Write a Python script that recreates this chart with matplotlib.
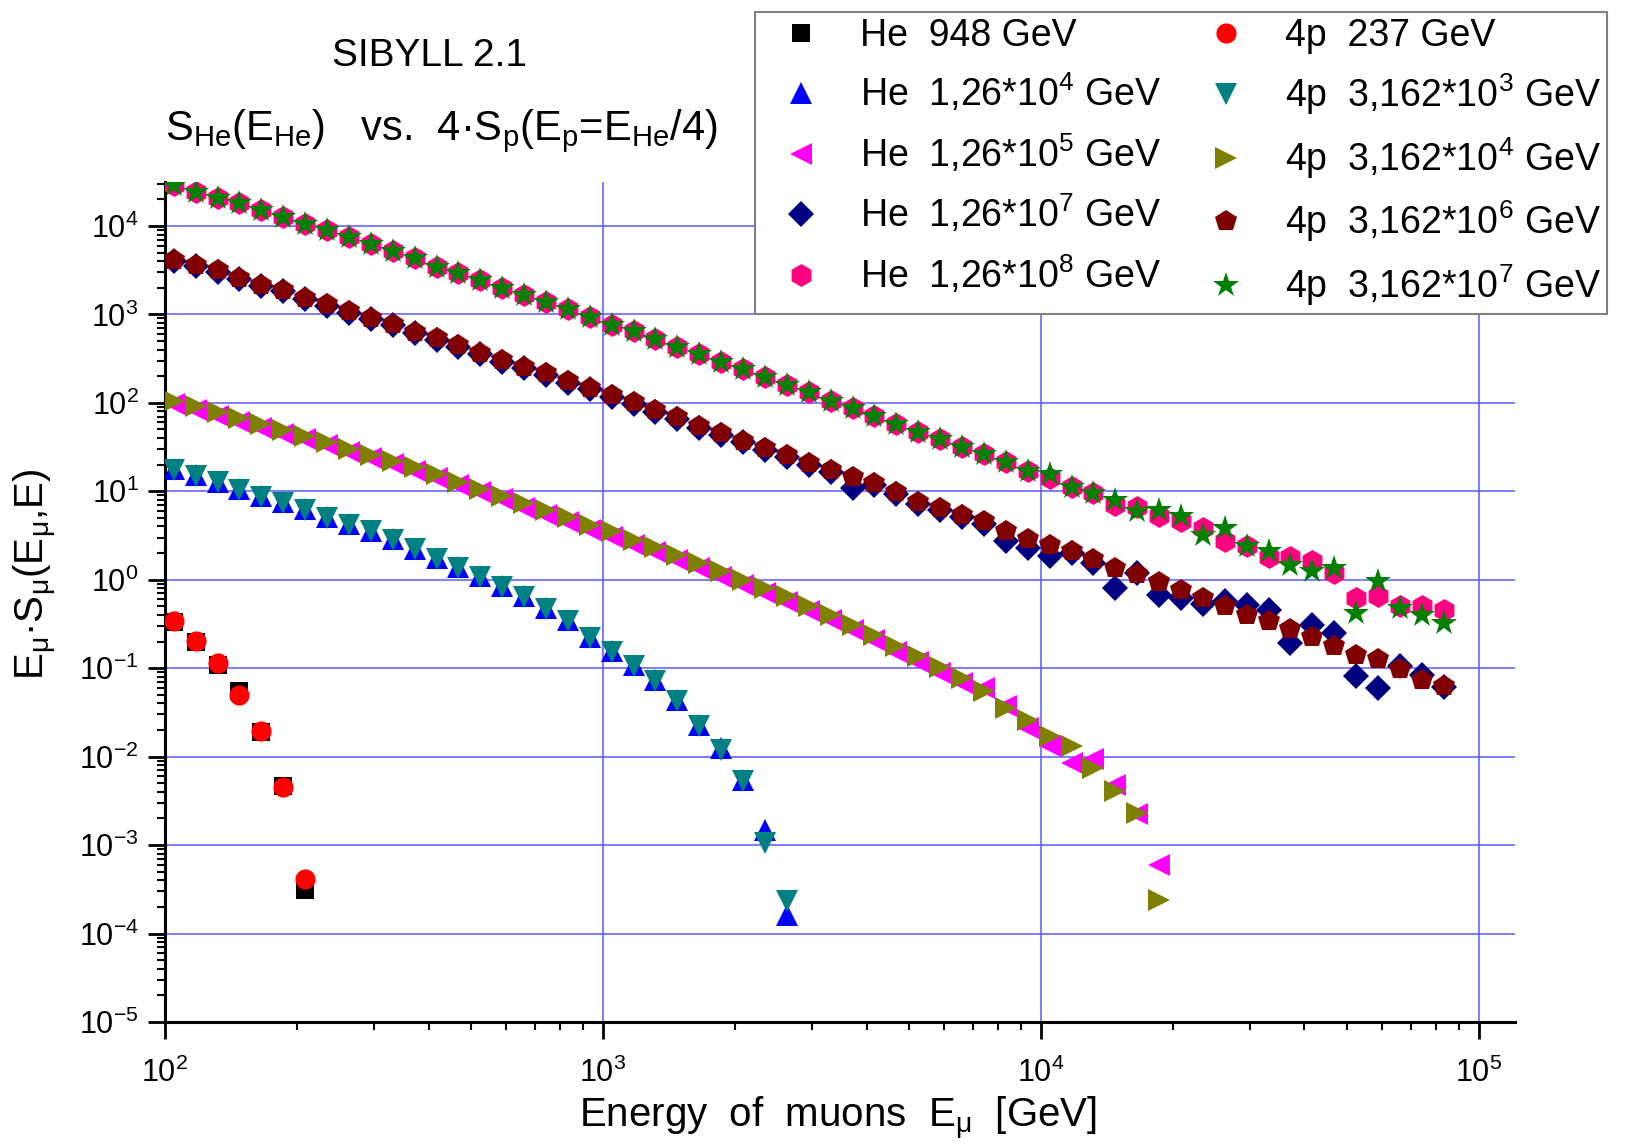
import numpy as np
import matplotlib.pyplot as plt
from matplotlib.ticker import LogLocator, FuncFormatter, NullFormatter

plt.rcParams['font.family'] = ['Liberation Sans', 'DejaVu Sans']
plt.rcParams['mathtext.fontset'] = 'custom'
plt.rcParams['mathtext.rm'] = 'Liberation Sans'
plt.rcParams['mathtext.it'] = 'Liberation Sans'
plt.rcParams['mathtext.default'] = 'regular'

# muon energy bins [GeV]
E = [104.7, 117.5, 131.8, 147.9, 166.0, 186.2, 208.9, 234.4, 263.0, 295.1,
     331.1, 371.5, 416.9, 467.7, 524.8, 588.8, 660.7, 741.3, 831.8, 933.3,
     1047, 1175, 1318, 1479, 1660, 1862, 2089, 2344, 2630, 2951,
     3311, 3715, 4169, 4677, 5248, 5888, 6607, 7413, 8318, 9333,
     10470, 11750, 13180, 14790, 16600, 18620, 20890, 23440, 26300, 29510,
     33110, 37150, 41690, 46770, 52480, 58880, 66070, 74130, 83180]

# E*S(E_mu, E) for helium primaries
he_948 = [0.33, 0.2, 0.11, 0.055, 0.019, 0.0047, 3.1e-4]
he_126e4 = [17.8, 15.1, 12.8, 10.6, 8.9, 7.5, 6.3, 5.1, 4.25, 3.6,
            2.88, 2.25, 1.75, 1.39, 1.1, 0.85, 0.66, 0.48, 0.35, 0.225,
            0.155, 0.108, 0.073, 0.0435, 0.0228, 0.0124, 0.0054, 1.5e-3, 1.64e-4]
he_126e5 = [96, 83, 71.5, 61.5, 52.5, 44.5, 39, 33, 27.5, 23.6,
            20.1, 16.9, 14.1, 11.7, 9.7, 8.1, 6.45, 5.37, 4.45, 3.64,
            3.06, 2.46, 2.04, 1.66, 1.35, 1.08, 0.87, 0.70, 0.563, 0.442,
            0.351, 0.27, 0.208, 0.154, 0.118, 0.089, 0.0675, 0.0603, 0.0372, 0.0209,
            0.0132, 0.0085, 0.0093, 0.0048, 0.00224, 0.0006]
he_126e7 = [4000, 3500, 3050, 2500, 2070, 1820, 1490, 1260, 1050, 880,
            750, 612, 515, 432, 354, 292, 245, 207, 168, 142,
            117, 97, 79.5, 65.5, 52.5, 43.5, 35.8, 29.4, 24.6, 19.8,
            16.7, 10.9, 11.8, 9.4, 7.25, 6.1, 5.1, 4.3, 2.71, 2.28,
            1.86, 2.0, 1.55, 0.805, 1.19, 0.676, 0.621, 0.537, 0.569, 0.521,
            0.45, 0.192, 0.31, 0.25, 0.0807, 0.0597, 0.105, 0.0845, 0.0617]
he_126e8 = [29000, 24430, 20890, 18070, 15170, 12740, 10540, 9016, 7447, 6209,
            5224, 4315, 3467, 2917, 2455, 2009, 1660, 1374, 1146, 946,
            767, 641, 525, 433, 358, 293, 240, 195, 160, 131,
            106, 87.1, 71.3, 57.9, 47.4, 39.2, 31.6, 26.1, 21.5, 17.1,
            14.1, 11.1, 9.6, 7.03, 6.73, 5.19, 4.56, 3.84, 2.71, 2.38,
            1.83, 1.83, 1.61, 1.19, 0.621, 0.647, 0.501, 0.501, 0.458]

# 4 x proton primaries at E_He/4
p_237 = [0.34, 0.205, 0.114, 0.05, 0.0197, 0.0045, 4.1e-4]
p_3162e3 = [17.4, 14.8, 12.6, 10.4, 8.73, 7.36, 6.18, 4.99, 4.18, 3.52,
            2.82, 2.2, 1.71, 1.36, 1.08, 0.83, 0.645, 0.468, 0.339, 0.219,
            0.151, 0.105, 0.071, 0.0422, 0.022, 0.012, 0.00526, 1.06e-3, 2.32e-4]
p_3162e4 = [104.7, 91.2, 78.5, 67.6, 57.5, 49.0, 42.7, 36.3, 30.2, 26.0,
            22.1, 18.6, 15.5, 12.9, 10.7, 8.91, 7.41, 6.17, 5.11, 4.18,
            3.52, 2.83, 2.34, 1.91, 1.55, 1.24, 1.0, 0.805, 0.647, 0.508,
            0.403, 0.31, 0.239, 0.177, 0.136, 0.102, 0.0776, 0.055, 0.0355, 0.0263,
            0.017, 0.0132, 0.00741, 0.00407, 0.00229, 0.00024]
p_3162e6 = [4130, 3622, 3184, 2606, 2153, 1892, 1549, 1315, 1096, 920,
            782, 640, 538, 452, 370, 306, 257, 217, 177, 149,
            123, 102, 83.4, 68.9, 55.0, 45.5, 37.5, 30.8, 25.8, 20.8,
            17.5, 14.7, 12.4, 9.93, 7.66, 6.46, 5.42, 4.56, 3.59, 2.88,
            2.45, 2.09, 1.70, 1.36, 1.16, 0.933, 0.757, 0.621, 0.508, 0.403,
            0.339, 0.277, 0.225, 0.177, 0.142, 0.127, 0.098, 0.0741, 0.0624]
p_3162e7 = [29000, 24430, 20890, 18070, 15170, 12740, 10540, 9016, 7447, 6209,
            5224, 4315, 3467, 2917, 2455, 2009, 1660, 1374, 1146, 946,
            767, 641, 525, 433, 358, 293, 240, 195, 160, 131,
            106, 87.1, 71.3, 57.9, 47.4, 39.2, 31.6, 26.1, 21.5, 17.1,
            15.8, 11.1, 9.6, 8.02, 5.92, 6.17, 5.19, 3.22, 3.84, 2.38,
            2.09, 1.48, 1.24, 1.36, 0.421, 0.957, 0.479, 0.403, 0.324]

W, H = 1629, 1144
fig = plt.figure(figsize=(W / 100, H / 100), dpi=100)
ax = fig.add_axes([165 / W, 1 - 1022 / H, 1350 / W, 840 / H])

# (values, marker, size, colour, label) -- helium set first, protons drawn on top
he_sets = [
    (he_948, 's', 13, 'black', 'He  948 GeV'),
    (he_126e4, '^', 15.5, '#0000ff', 'He  1,26*10$^4$ GeV'),
    (he_126e5, '<', 15.5, '#ff00ff', 'He  1,26*10$^5$ GeV'),
    (he_126e7, 'D', 13.5, '#000080', 'He  1,26*10$^7$ GeV'),
    (he_126e8, 'h', 16.5, '#ff0080', 'He  1,26*10$^8$ GeV'),
]
p_sets = [
    (p_237, 'o', 14.5, '#ff0000', '4p  237 GeV'),
    (p_3162e3, 'v', 15.5, '#008080', '4p  3,162*10$^3$ GeV'),
    (p_3162e4, '>', 15.5, '#808000', '4p  3,162*10$^4$ GeV'),
    (p_3162e6, 'p', 16.5, '#800000', '4p  3,162*10$^6$ GeV'),
    (p_3162e7, '*', 19, '#008000', '4p  3,162*10$^7$ GeV'),
]

handles = {}
for he, p in zip(he_sets, p_sets):
    for vals, m, ms, c, lab in (he, p):
        h, = ax.plot(E[:len(vals)], vals, ls='none', marker=m, ms=ms,
                     color=c, mec=c, mew=0, label=lab, zorder=3)
        handles[lab] = h

ax.set_xscale('log')
ax.set_yscale('log')
ax.set_xlim(100, 1.21e5)
ax.set_ylim(1e-5, 3.14e4)

ax.xaxis.set_major_locator(LogLocator(base=10, numticks=20))
ax.yaxis.set_major_locator(LogLocator(base=10, numticks=20))
ax.xaxis.set_minor_locator(LogLocator(base=10, subs=np.arange(2, 10), numticks=20))
ax.yaxis.set_minor_locator(LogLocator(base=10, subs=np.arange(2, 10), numticks=20))
fmt = FuncFormatter(lambda v, pos: '$10^{%d}$' % round(np.log10(v)))
ax.xaxis.set_major_formatter(fmt)
ax.yaxis.set_major_formatter(fmt)
ax.xaxis.set_minor_formatter(NullFormatter())
ax.yaxis.set_minor_formatter(NullFormatter())

ax.tick_params(which='major', direction='out', length=12, width=2, labelsize=22)
ax.tick_params(which='minor', direction='out', length=6, width=1.5)
ax.tick_params(axis='x', which='major', pad=14)
ax.tick_params(axis='y', which='major', pad=7)

for side in ('top', 'right'):
    ax.spines[side].set_visible(False)
for side in ('left', 'bottom'):
    ax.spines[side].set_linewidth(2.2)

ax.grid(True, which='major', color='#5a5aff', lw=1.1)
ax.set_axisbelow(True)

fig.text(429 / W, 1 - 66 / H, 'SIBYLL 2.1', ha='center', va='baseline', fontsize=28)
fig.text(441 / W, 1 - 140 / H,
         'S$_{He}$(E$_{He}$)   vs.  4·S$_p$(E$_p$=E$_{He}$/4)',
         ha='center', va='baseline', fontsize=30)
fig.text(838 / W, 1 - 1127 / H, 'Energy  of  muons  E$_μ$  [GeV]',
         ha='center', va='baseline', fontsize=29)
fig.text(36 / W, 1 - 574 / H, 'E$_μ$·S$_μ$(E$_μ$,E)', rotation=90,
         ha='center', va='center', fontsize=29)

order = [s[4] for s in he_sets] + [s[4] for s in p_sets]
leg = fig.legend([handles[k] for k in order], order, ncol=2, loc='upper left',
                 bbox_to_anchor=(755 / W, 1 - 12 / H), borderaxespad=0,
                 fontsize=27, frameon=True, fancybox=False, framealpha=1,
                 edgecolor='#808080', handlelength=2.15, handletextpad=0.5,
                 columnspacing=0.66, borderpad=0.15, labelspacing=0.48)
leg.get_frame().set_linewidth(1.5)

fig.savefig('out.png', dpi=100)
